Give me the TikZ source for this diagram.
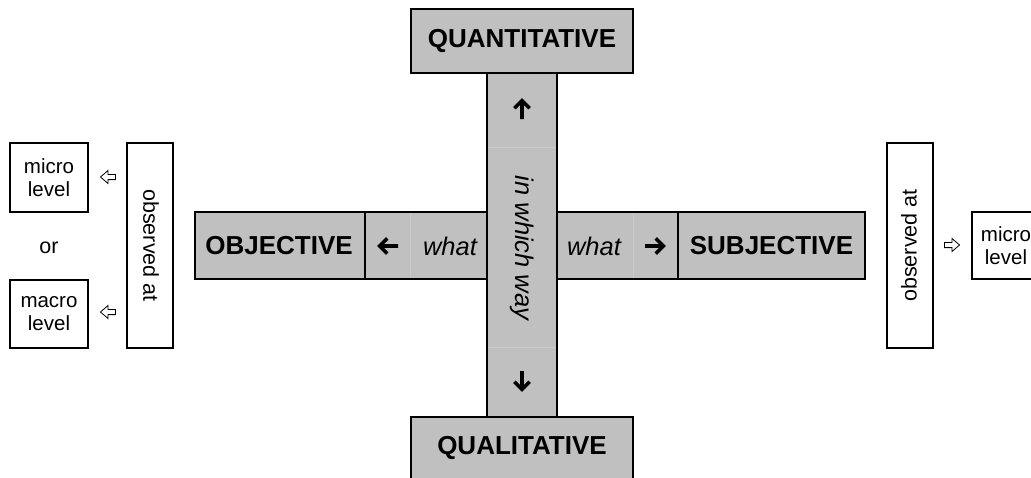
\documentclass[tikz,border=0pt]{standalone}
\usepackage{fontspec}
\setmainfont{Liberation Sans}
\begin{document}
\begin{tikzpicture}[x=1pt,y=-1pt,
  cell/.style={draw=black, line width=1.6pt, fill=cellgray, inner sep=0pt, outer sep=0pt},
  whitebox/.style={draw=black, line width=1.6pt, fill=white, inner sep=0pt, outer sep=0pt, align=center,
    font=\fontsize{20.5}{23}\selectfont},
  headtext/.style={font=\fontsize{26}{30}\selectfont\bfseries},
  slanttext/.style={font=\fontsize{25.5}{28}\selectfont\itshape},
  plaintext/.style={font=\fontsize{21.5}{24}\selectfont},
  faint/.style={draw=faintgray, line width=0.5pt},
  heavyarrow/.pic={\draw[line width=3.6pt, line join=miter, line cap=butt]
      (-10,0) -- (8,0) (0.8,-7.6) -- (8.4,0) -- (0.8,7.6);},
  hollowarrow/.pic={\draw[line width=0.8pt, fill=white, line join=miter]
      (-7.5,-2.6) -- (0,-2.6) -- (0,-6.5) -- (7.5,0) -- (0,6.5) -- (0,2.6) -- (-7.5,2.6) -- cycle;}
]
\definecolor{cellgray}{HTML}{C0C0C0}
\definecolor{faintgray}{HTML}{CACACA}
\useasboundingbox (0,0) rectangle (1031,477);
\clip (0,0) rectangle (1031,477);

% horizontal bar: objective / what / what / subjective
\node[cell, minimum width=170pt, minimum height=67pt] (objcell) at (280,245.5) {};
\node[cell, minimum width=122pt, minimum height=67pt] (leftwhat) at (426,245.5) {};
\node[cell, minimum width=121pt, minimum height=67pt] (rightwhat) at (617.5,245.5) {};
\node[cell, minimum width=187pt, minimum height=67pt] (subjcell) at (771.5,245.5) {};
\draw[faint] (410,213) -- (410,278);
\draw[faint] (633,213) -- (633,278);

% vertical bar: in which way
\node[cell, minimum width=70pt, minimum height=344pt] (waybar) at (522,245) {};
\draw[faint] (488,147) -- (556,147);
\draw[faint] (488,347) -- (556,347);

% top and bottom boxes
\node[cell, minimum width=222pt, minimum height=64pt] (quant) at (522,41) {};
\node[cell, minimum width=222pt, minimum height=64pt] (qual) at (522,449) {};

% labels of the cross
\node[headtext] (quanttext) at (522,41) {QUANTITATIVE};
\node[headtext] (qualtext) at (522,448) {QUALITATIVE};
\node[headtext] (objtext) at (279,245.5) {OBJECTIVE};
\node[headtext] (subjtext) at (771.5,245.5) {SUBJECTIVE};
\node[slanttext] (leftwhattext) at (450,246) {what};
\node[slanttext] (rightwhattext) at (594,246) {what};
\node[slanttext, rotate=-90] (waytext) at (522,248) {in which way};

% direction arrows
\pic at (388,246) [rotate=180] {heavyarrow};
\pic at (655,246) {heavyarrow};
\pic at (522,109) [rotate=90] {heavyarrow};
\pic at (522,381) [rotate=-90] {heavyarrow};

% left side: observed at micro or macro level
\node[whitebox, minimum width=78pt, minimum height=69pt] (microleft) at (49,177.5) {micro\\level};
\node[whitebox, minimum width=78pt, minimum height=68pt] (macroleft) at (49,314) {macro\\level};
\node[plaintext] (ortext) at (49,248) {or};
\node[whitebox, minimum width=46pt, minimum height=205pt] (obsleft) at (150,245.5) {};
\node[plaintext, rotate=-90] (obslefttext) at (151,245.5) {observed at};
\pic at (108,177) [rotate=180] {hollowarrow};
\pic at (108,312) [rotate=180] {hollowarrow};

% right side: observed at micro level
\node[whitebox, minimum width=46pt, minimum height=205pt] (obsright) at (910,245.5) {};
\node[plaintext, rotate=90] (obsrighttext) at (909,245.5) {observed at};
\node[whitebox, minimum width=68pt, minimum height=67pt] (microright) at (1006,245.5) {micro\\level};
\pic at (952,245) {hollowarrow};
\end{tikzpicture}
\end{document}
